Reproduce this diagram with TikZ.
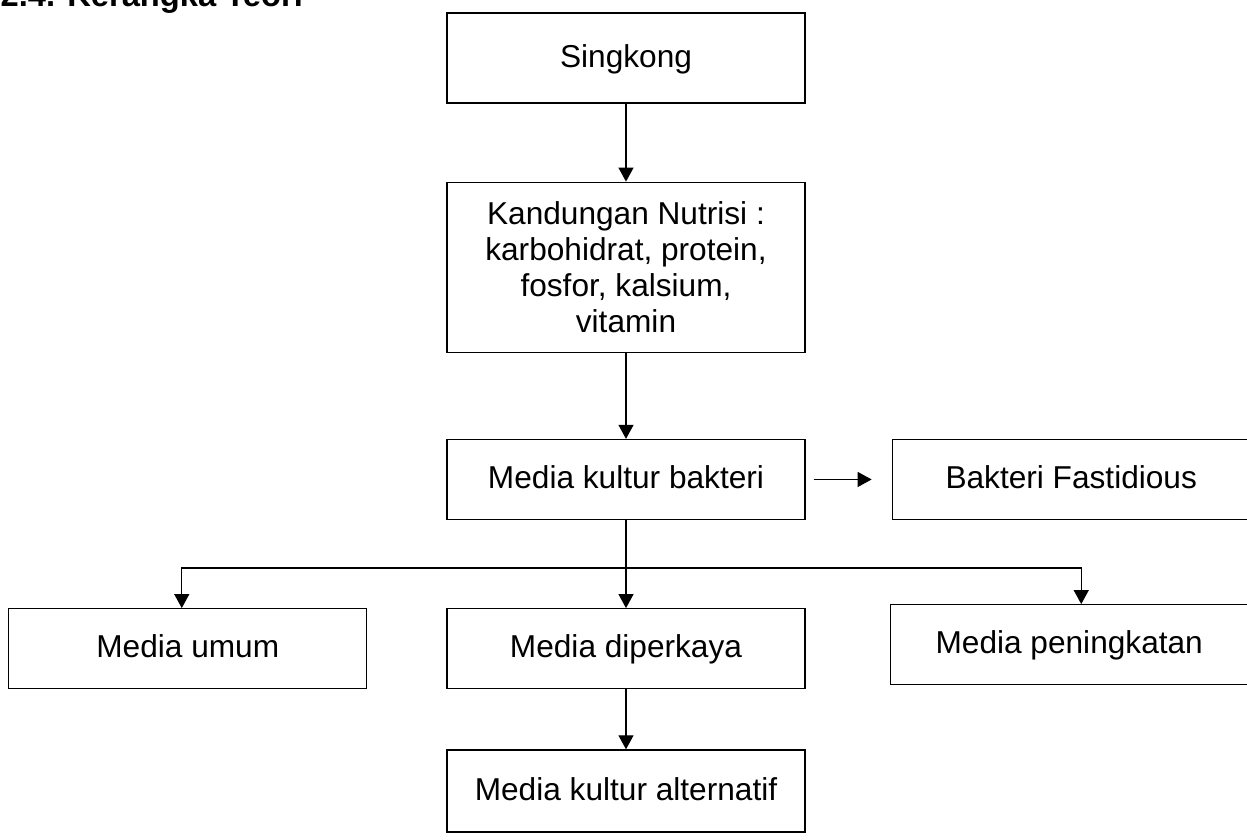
\documentclass[tikz,border=0pt]{standalone}
\usepackage{fontspec}
\setmainfont{Liberation Sans}
\usepackage{tikz}
\usetikzlibrary{positioning,arrows.meta}
\tikzstyle{process} = [rectangle, minimum width=3.58cm, minimum height=0.8cm, text centered, draw=black, line width=0.35pt, inner sep=0pt, font=\fontsize{9}{10.2}\selectfont]
\tikzstyle{oneline} = [process, text height=0.73em, text depth=0.21em]
\tikzstyle{arrow} = [line width=0.35pt,->,>={Triangle[width=0.15cm,length=0.14cm]}]

\begin{document}
\begin{tikzpicture}[node distance=0.8cm]
\useasboundingbox (0,0) rectangle (12.47,-8.40);
\clip (0,0) rectangle (12.47,-8.40);
\node (judul) [anchor=base west, inner sep=0pt, font=\fontsize{9.3}{11}\selectfont\bfseries] at (0,-0.07) {2.4. Kerangka Teori};
\node (singkong) [oneline, minimum height=0.9cm] at (6.26,-0.58) {Singkong};
\node (nutrisi) [process, minimum height=1.7cm, align=center, below = 0.78cm of singkong] {Kandungan Nutrisi :\\karbohidrat, protein,\\fosfor, kalsium,\\vitamin};
\node (media) [oneline, below = 0.86cm of nutrisi] {Media kultur bakteri};
\node (fastidious) [oneline, right = 0.86cm of media] {Bakteri Fastidious};
\node (diperkaya) [oneline, below = 0.88cm of media] {Media diperkaya};
\node (umum) [oneline, left = 0.79cm of diperkaya] {Media umum};
\node (peningkatan) [oneline, right = 0.84cm of diperkaya, yshift=0.04cm] {Media peningkatan};
\node (alternatif) [oneline, minimum height=0.82cm, below = 0.6cm of diperkaya] {Media kultur alternatif};
\coordinate [below = 0.48cm of media] (cabang);
\draw [arrow] (singkong) -- (nutrisi);
\draw [arrow] (nutrisi) -- (media);
\draw [arrow, shorten <=0.08cm, shorten >=0.2cm] (media) -- (fastidious);
\draw [line width=0.35pt] (media) -- (cabang);
\draw [arrow] (cabang) -| ([xshift=-0.06cm]umum.north);
\draw [arrow] (cabang) -- (diperkaya);
\draw [arrow] (cabang) -| ([xshift=0.12cm]peningkatan.north);
\draw [arrow] (diperkaya) -- (alternatif);
\end{tikzpicture}
\end{document}
